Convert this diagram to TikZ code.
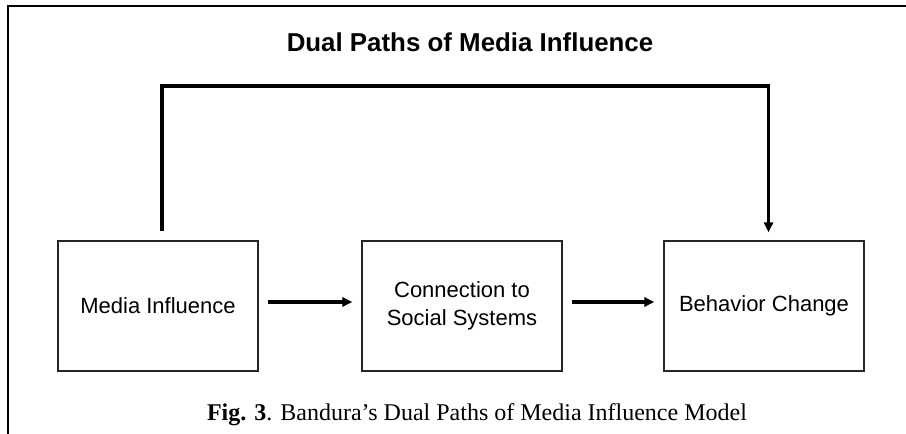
\documentclass[tikz,border=0pt]{standalone}
\usepackage{fontspec}
\setmainfont{Liberation Serif}
\setsansfont{Liberation Sans}
\usetikzlibrary{arrows.meta,calc}
\begin{document}
\begin{tikzpicture}[x=0.75pt,y=-0.75pt,
  framestyle/.style={line width=1.6pt,black},
  boxstyle/.style={draw=black!85,line width=0.9pt,minimum width=150pt,minimum height=97.5pt,
     inner sep=0pt,align=center,font=\sffamily\fontsize{16.5}{21}\selectfont},
  arrowline/.style={line width=2.3pt,-{Triangle[length=7.5pt,width=6.8pt]}},
  plainline/.style={line width=2.3pt}]
\useasboundingbox (0,0) rectangle (906,434);
\fill[white] (0,0) rectangle (906,434);
% partial frame
\draw[framestyle] (8,440) -- (8,6) -- (912,6);
% title
\node[anchor=base,font=\sffamily\bfseries\fontsize{19.4}{23}\selectfont] (title) at (470,52) {Dual Paths of Media Influence};
% boxes
\node[boxstyle] (media) at (158,306) {Media Influence};
\node[boxstyle] (social) at (462,306) {Connection to\\Social Systems};
\node[boxstyle] (behav) at (764,306) {Behavior Change};
% horizontal arrows
\draw[arrowline,shorten <=6.75pt,shorten >=6.75pt] ([yshift=3pt]media.east) -- ([yshift=3pt]social.west);
\draw[arrowline,shorten <=6.75pt,shorten >=6.75pt] ([yshift=3pt]social.east) -- ([yshift=3pt]behav.west);
% top path
\coordinate (s) at ($(media.north)+(4,-9)$);
\coordinate (c1) at (162,86);
\coordinate (c2) at (768.5,86);
\coordinate (e) at ($(behav.north)+(4.5,-8)$);
\draw[arrowline,line join=miter] (s) -- (c1) -- (c2) -- (e);
% caption
\node[anchor=base,font=\rmfamily\fontsize{18}{22}\selectfont] (cap) at (477,420) {\textbf{Fig. 3}. Bandura’s Dual Paths of Media Influence Model};
\end{tikzpicture}
\end{document}
